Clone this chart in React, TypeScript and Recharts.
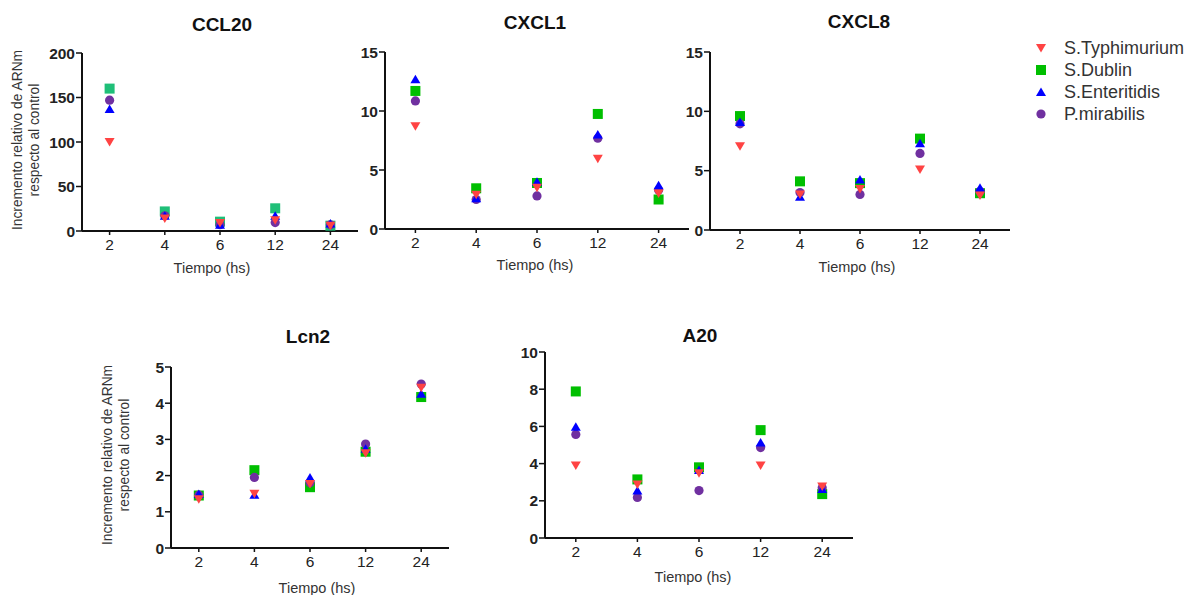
import React from 'react';
import { ScatterChart, Scatter, XAxis, YAxis } from 'recharts';

const CATS = ['2', '4', '6', '12', '24'];
const X_IDX = [0, 1, 2, 3, 4];

const SERIES = ['S.Typhimurium', 'S.Dublin', 'S.Enteritidis', 'P.mirabilis'];

const ccl20Typh = [100, 14, 9, 12, 6];
const ccl20Dub = [160, 22, 10.5, 25.5, 6];
const ccl20Ent = [137, 17, 7, 17, 8.5];
const ccl20Mir = [147, 17, 7, 9.5, 7];

const cxcl1Typh = [8.7, 2.9, 3.5, 5.95, 3.0];
const cxcl1Dub = [11.7, 3.45, 3.9, 9.75, 2.5];
const cxcl1Ent = [12.7, 2.6, 4.0, 8.0, 3.7];
const cxcl1Mir = [10.85, 2.5, 2.8, 7.7, 3.3];

const cxcl8Typh = [7.05, 3.0, 3.45, 5.1, 2.9];
const cxcl8Dub = [9.6, 4.1, 3.95, 7.7, 3.1];
const cxcl8Ent = [9.1, 2.8, 4.25, 7.3, 3.55];
const cxcl8Mir = [8.95, 3.15, 3.0, 6.45, 3.25];

const lcn2Typh = [1.35, 1.5, 1.77, 2.62, 4.43];
const lcn2Dub = [1.45, 2.15, 1.68, 2.66, 4.17];
const lcn2Ent = [1.49, 1.47, 1.95, 2.74, 4.26];
const lcn2Mir = [1.46, 1.95, 1.8, 2.87, 4.53];

const a20Typh = [3.9, 2.88, 3.48, 3.9, 2.77];
const a20Dub = [7.88, 3.15, 3.8, 5.8, 2.36];
const a20Ent = [5.98, 2.55, 3.65, 5.14, 2.64];
const a20Mir = [5.57, 2.18, 2.55, 4.86, 2.7];

const RED = '#ff4343';
const GREEN = '#00bf00';
const BLUE = '#0000ff';
const PURPLE = '#7030a0';

const FONT = '"Liberation Sans", Arial, sans-serif';

const downTri = (c: string) => (p: any) => (
  <polygon points={`${p.cx - 5},${p.cy - 4} ${p.cx + 5},${p.cy - 4} ${p.cx},${p.cy + 4.5}`} fill={c} />
);
const upTri = (c: string) => (p: any) => (
  <polygon points={`${p.cx - 5},${p.cy + 4} ${p.cx + 5},${p.cy + 4} ${p.cx},${p.cy - 4.5}`} fill={c} />
);
const square = (c: string) => (p: any) => <rect x={p.cx - 5} y={p.cy - 5} width={10} height={10} fill={c} />;
const circle = (c: string) => (p: any) => <circle cx={p.cx} cy={p.cy} r={4.6} fill={c} />;

const toPts = (vals: number[]) => vals.map((v, i) => ({ x: X_IDX[i], y: v }));

type PanelProps = {
  title: string;
  x0: number; x1: number; y0: number; y1: number;
  max: number; ticks: number[];
  typh: number[]; dub: number[]; ent: number[]; mir: number[];
  dubColor?: string;
  titleX: number; titleY: number;
  xlabX: number; xlabY: number;
};

const Panel = (p: PanelProps) => {
  const W = p.x1 - p.x0 + 70;
  const H = p.y1 - p.y0 + 50;
  return (
    <>
      <div style={{ position: 'absolute', left: p.titleX - 60, top: p.titleY - 12, width: 120, textAlign: 'center', fontWeight: 'bold', fontSize: 19, color: '#111', lineHeight: '24px' }}>
        {p.title}
      </div>
      <div style={{ position: 'absolute', left: p.x0 - 60, top: p.y0 - 10 }}>
        <ScatterChart width={W} height={H} margin={{ top: 10, right: 10, left: 10, bottom: 10 }}>
          <XAxis
            type="number" dataKey="x" domain={[-0.5, 4.5]} ticks={X_IDX} interval={0}
            tickFormatter={(i: number) => CATS[i]}
            height={30}
            axisLine={{ stroke: '#111', strokeWidth: 2 }}
            tickLine={{ stroke: '#111', strokeWidth: 1.5 }}
            tickSize={4} tickMargin={4}
            tick={{ fill: '#222', fontSize: 15.5, fontFamily: FONT }}
          />
          <YAxis
            type="number" dataKey="y" domain={[0, p.max]} ticks={p.ticks} interval={0}
            width={50}
            axisLine={{ stroke: '#111', strokeWidth: 2 }}
            tickLine={{ stroke: '#111', strokeWidth: 1.5 }}
            tickSize={6} tickMargin={1}
            tick={{ fill: '#222', fontSize: 15.5, fontWeight: 'bold', fontFamily: FONT }}
          />
          <Scatter name={SERIES[1]} data={toPts(p.dub)} shape={square(p.dubColor || GREEN)} isAnimationActive={false} />
          <Scatter name={SERIES[3]} data={toPts(p.mir)} shape={circle(PURPLE)} isAnimationActive={false} />
          <Scatter name={SERIES[2]} data={toPts(p.ent)} shape={upTri(BLUE)} isAnimationActive={false} />
          <Scatter name={SERIES[0]} data={toPts(p.typh)} shape={downTri(RED)} isAnimationActive={false} />
        </ScatterChart>
      </div>
      <div style={{ position: 'absolute', left: p.xlabX - 60, top: p.xlabY - 9, width: 120, textAlign: 'center', fontSize: 14.5, color: '#333', lineHeight: '18px' }}>
        Tiempo (hs)
      </div>
    </>
  );
};

const YLabel = ({ cx, cy }: { cx: number; cy: number }) => (
  <div style={{ position: 'absolute', left: cx - 120, top: cy - 17, width: 240, height: 34, textAlign: 'center', fontSize: 13.8, lineHeight: '17px', color: '#333', transform: 'rotate(-90deg)', transformOrigin: 'center' }}>
    Incremento relativo de ARNm<br />respecto al control
  </div>
);

const legendIcons = [downTri(RED), square(GREEN), upTri(BLUE), circle(PURPLE)];
const legendRows = [48, 70, 92, 114];

export default function App() {
  return (
    <div style={{ position: 'absolute', left: 0, top: 0, width: 1192, height: 595, background: '#fff', fontFamily: FONT, overflow: 'hidden' }}>
      <Panel title="CCL20" x0={82} x1={358} y0={53} y1={231} max={200} ticks={[0, 50, 100, 150, 200]}
        typh={ccl20Typh} dub={ccl20Dub} ent={ccl20Ent} mir={ccl20Mir} dubColor="#1fbf78"
        titleX={222} titleY={25} xlabX={212} xlabY={268} />
      <Panel title="CXCL1" x0={385} x1={689} y0={52} y1={229} max={15} ticks={[0, 5, 10, 15]}
        typh={cxcl1Typh} dub={cxcl1Dub} ent={cxcl1Ent} mir={cxcl1Mir}
        titleX={535} titleY={23} xlabX={535} xlabY={265} />
      <Panel title="CXCL8" x0={710} x1={1010} y0={52} y1={230} max={15} ticks={[0, 5, 10, 15]}
        typh={cxcl8Typh} dub={cxcl8Dub} ent={cxcl8Ent} mir={cxcl8Mir}
        titleX={859} titleY={22} xlabX={857} xlabY={267} />
      <Panel title="Lcn2" x0={171} x1={449} y0={367} y1={548} max={5} ticks={[0, 1, 2, 3, 4, 5]}
        typh={lcn2Typh} dub={lcn2Dub} ent={lcn2Ent} mir={lcn2Mir}
        titleX={308} titleY={337} xlabX={317} xlabY={588} />
      <Panel title="A20" x0={545} x1={853} y0={352} y1={538} max={10} ticks={[0, 2, 4, 6, 8, 10]}
        typh={a20Typh} dub={a20Dub} ent={a20Ent} mir={a20Mir}
        titleX={700} titleY={336} xlabX={693} xlabY={577} />
      <YLabel cx={25.5} cy={140} />
      <YLabel cx={116} cy={455} />
      {SERIES.map((s, i) => (
        <div key={s} style={{ position: 'absolute', left: 1030, top: legendRows[i] - 11, height: 22, display: 'flex', alignItems: 'center' }}>
          <svg width={22} height={22}>{legendIcons[i]({ cx: 11, cy: 11 })}</svg>
          <span style={{ marginLeft: 12, fontSize: 18, color: '#333', whiteSpace: 'nowrap' }}>{s}</span>
        </div>
      ))}
    </div>
  );
}
